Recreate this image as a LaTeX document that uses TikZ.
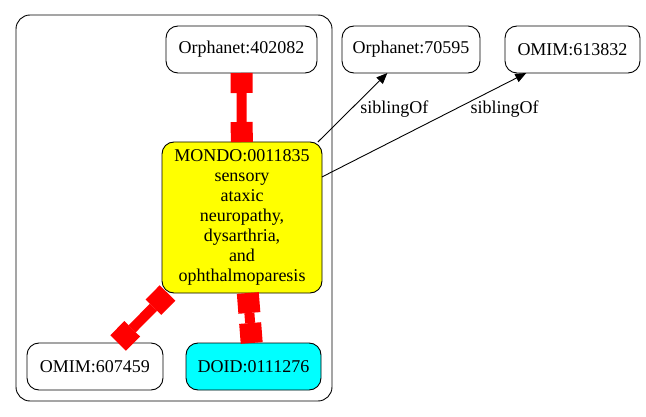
\documentclass[tikz,border=0pt]{standalone}
\usepackage{fontspec}
\setmainfont{Liberation Serif}
\usepackage{tikz}
\usetikzlibrary{arrows.meta, positioning}
\definecolor{linkred}{RGB}{255,0,0}
\definecolor{mondoyellow}{RGB}{255,255,0}
\definecolor{doidcyan}{RGB}{0,255,255}

\begin{document}
\begin{tikzpicture}[x=1pt, y=-1pt,
  redlink/.style={draw=linkred, line width=10pt,
    {Rectangle[length=20pt,width=22pt,line width=0pt]}-{Rectangle[length=20pt,width=22pt,line width=0pt]}},
  sibling/.style={draw=black, line width=0.9pt, -{Triangle[length=11pt,width=9pt]}}]
\useasboundingbox (0,0) rectangle (646,417);

\draw[line width=0.9pt, rounded corners=14pt] (16,15) rectangle (332,401);

\begin{scope}[every node/.style={rectangle, draw, rounded corners=12pt, line width=0.9pt, outer sep=0pt, inner sep=2pt,
  minimum height=47pt, align=center, font=\fontsize{18}{20}\selectfont}]
  \draw node (orph402082) at (241.5,49.5) [minimum width=151pt] {Orphanet:402082};
  \draw node (orph70595) at (411,49.5) [minimum width=138pt] {Orphanet:70595};
  \draw node (omim613832) at (572.5,49.5) [minimum width=135pt] {OMIM:613832};
  \draw node (mondo) at (242,217.5) [fill=mondoyellow, minimum width=160pt, minimum height=151pt]
    {MONDO:0011835\\sensory\\ataxic\\neuropathy,\\dysarthria,\\and\\ophthalmoparesis};
  \draw node (omim607459) at (95,366.5) [minimum width=136pt] {OMIM:607459};
  \draw node (doid) at (253.5,366.5) [fill=doidcyan, minimum width=135pt] {DOID:0111276};
\end{scope}

\draw[redlink] (orph402082) -- (mondo);
\draw[redlink] (mondo) -- (omim607459);
\draw[redlink] (mondo) -- (doid);

\begin{scope}[every node/.style={font=\fontsize{18}{20}\selectfont}]
  \draw[sibling] (mondo) -- node[pos=0.47, right=6pt] {siblingOf} (orph70595);
  \draw[sibling] (mondo) -- node[pos=0.65, right=12pt] {siblingOf} (omim613832);
\end{scope}

\end{tikzpicture}
\end{document}
